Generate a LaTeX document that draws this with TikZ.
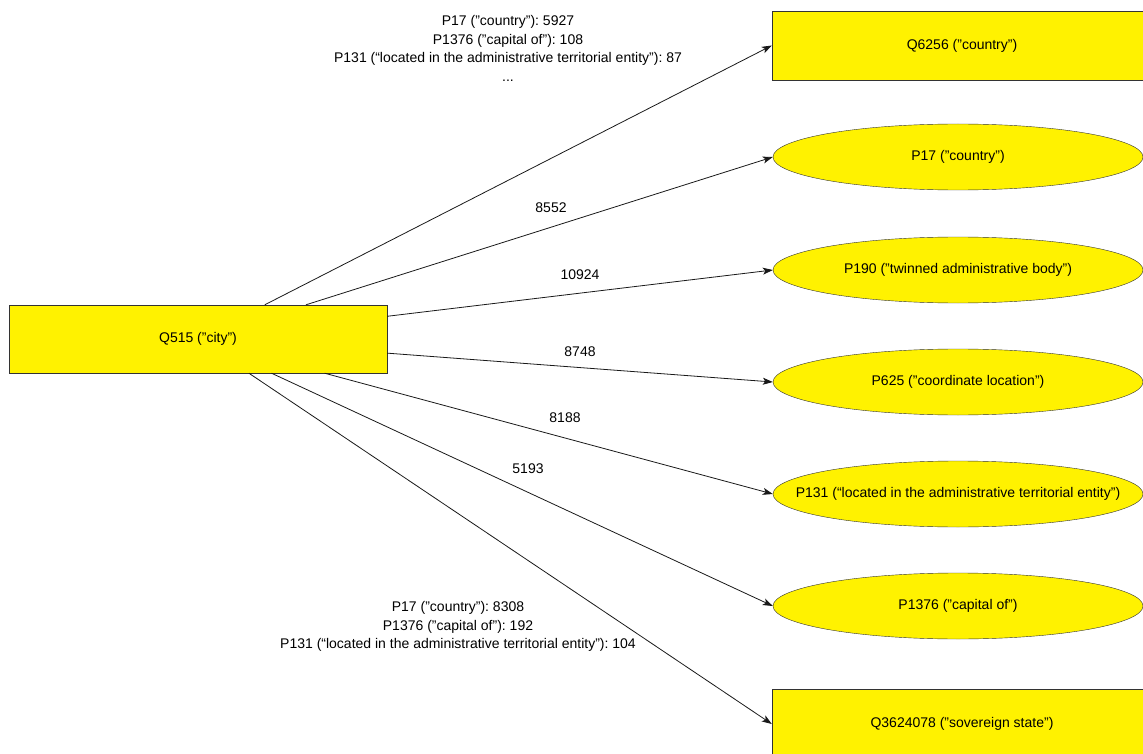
\documentclass[tikz,border=0pt]{standalone}
\usepackage{fontspec}
\setmainfont{Liberation Sans}
\usetikzlibrary{arrows.meta,shapes.geometric}
\frenchspacing
\newcommand{\ptext}[1]{\makebox[0pt]{#1}}
\tikzset{
  item/.style={draw=black!80,fill=yellow,minimum width=380pt,minimum height=69pt,inner sep=0pt,font=\fontsize{14}{16}\selectfont},
  prop/.style={ellipse,draw=black!80,fill=yellow,minimum width=370pt,minimum height=66pt,inner sep=0pt,font=\fontsize{14}{16}\selectfont},
  link/.style={draw=black!90,line width=0.8pt,-{Stealth[length=10pt,width=7pt,inset=2.5pt]}},
  lbl/.style={font=\fontsize{14}{18.5}\selectfont,align=center,inner sep=0pt}
}
\begin{document}
\begin{tikzpicture}[x=1pt,y=-1pt]
    \useasboundingbox (0,0) rectangle (1143,754);
    \clip (0,0) rectangle (1143,754);
    % classes and properties
    \node[item,minimum width=378pt,minimum height=68pt] (city) at (198,339) {Q515 ("city")};
    \node[item] (country) at (962,45.5) {Q6256 ("country")};
    \node[prop] (pcountry) at (958,157) {\ptext{P17 ("country")}};
    \node[prop] (twinned) at (958,270) {\ptext{P190 ("twinned administrative body")}};
    \node[prop] (coord) at (958,382) {\ptext{P625 ("coordinate location")}};
    \node[prop] (located) at (958,494) {\ptext{P131 (“located in the administrative territorial entity”)}};
    \node[prop] (capital) at (958,606) {\ptext{P1376 ("capital of")}};
    \node[item] (sovereign) at (962,724) {Q3624078 ("sovereign state")};
    % counts
    \draw[link] (city) -- (country.west)
        node[lbl,anchor=north] (lcountry) at (508,15) {P17 ("country"): 5927\\P1376 ("capital of"): 108\\P131 (“located in the administrative territorial entity”): 87\\...};
    \draw[link] (city) -- (pcountry.west) node[lbl] (lpcountry) at (551,208) {8552};
    \draw[link] (city) -- (twinned.west) node[lbl] (ltwinned) at (580,275) {10924};
    \draw[link] (city) -- (coord.west) node[lbl] (lcoord) at (580,352) {8748};
    \draw[link] (city) -- (located.west) node[lbl] (llocated) at (565,418) {8188};
    \draw[link] (city) -- (capital.west) node[lbl] (lcapital) at (528,469) {5193};
    \draw[link] (city) -- (sovereign.west)
        node[lbl,anchor=north] (lsovereign) at (458,601) {P17 ("country"): 8308\\P1376 ("capital of"): 192\\P131 (“located in the administrative territorial entity”): 104};
\end{tikzpicture}
\end{document}
